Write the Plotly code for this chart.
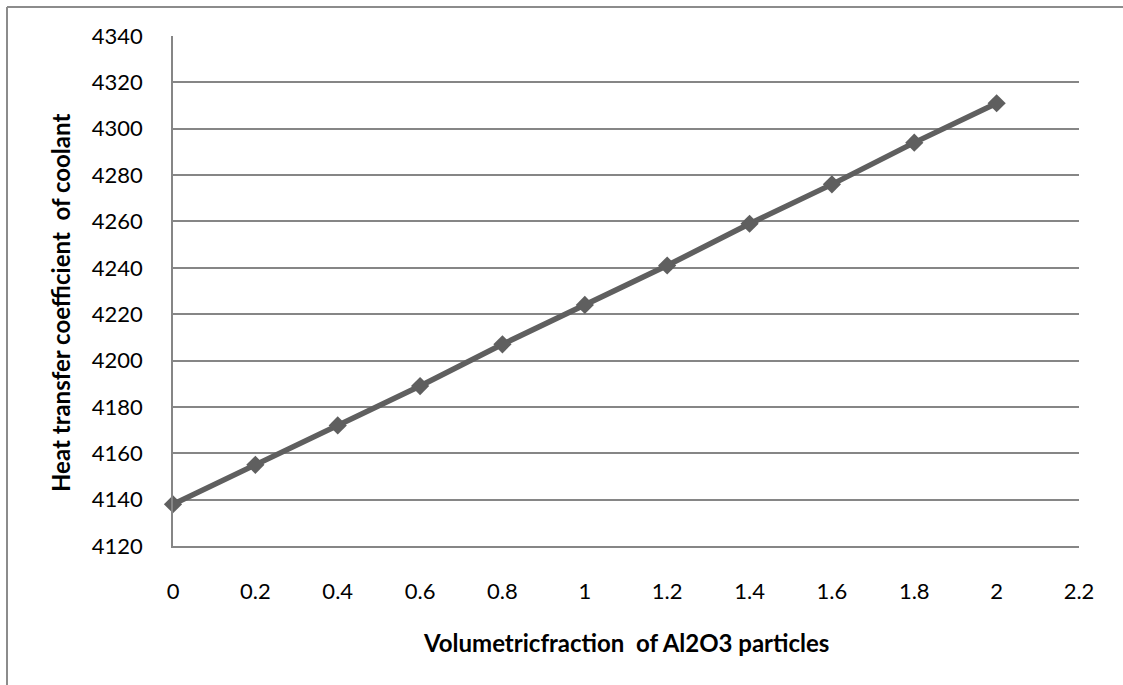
import plotly.graph_objects as go

fraction = [0, 0.2, 0.4, 0.6, 0.8, 1.0, 1.2, 1.4, 1.6, 1.8, 2.0]
htc = [4138, 4155, 4172, 4189, 4207, 4224, 4241, 4259, 4276, 4294, 4311]

x_ticks = [0, 0.2, 0.4, 0.6, 0.8, 1, 1.2, 1.4, 1.6, 1.8, 2, 2.2]
x_tick_text = ["0", "0.2", "0.4", "0.6", "0.8", "1", "1.2", "1.4", "1.6", "1.8", "2", "2.2"]
y_ticks = list(range(4120, 4341, 20))

x_title = "<b>Volumetricfraction  of Al2O3 particles</b>"
y_title = "<b>Heat transfer coefficient  of coolant</b>"

W, H = 1123, 685
L, R, T, B = 173, 44, 36, 139
pw, ph = W - L - R, H - T - B

grid_color = "#868686"
line_color = "#5f5f5f"
tick_font = dict(family="Lato, Carlito, Calibri, sans-serif", size=22, color="#000000")
title_font = dict(family="Lato, Carlito, Calibri, sans-serif", size=24, color="#000000")

fig = go.Figure()
fig.add_trace(go.Scatter(
    x=fraction, y=htc, mode="lines+markers",
    line=dict(color=line_color, width=5.5),
    marker=dict(symbol="diamond", size=14, color=line_color),
    showlegend=False, cliponaxis=False,
))

fig.update_layout(
    width=W, height=H,
    margin=dict(l=L, r=R, t=T, b=B),
    paper_bgcolor="white", plot_bgcolor="white",
    xaxis=dict(
        range=[0, 2.2], tickmode="array", tickvals=x_ticks, ticktext=x_tick_text,
        showgrid=False, zeroline=False, showline=True, linecolor=grid_color, linewidth=1.5,
        ticks="", tickfont=tick_font, ticklabelstandoff=25,
    ),
    yaxis=dict(
        range=[4120, 4340], tickmode="array", tickvals=y_ticks,
        showgrid=True, gridcolor=grid_color, gridwidth=1.5,
        zeroline=False, showline=True, linecolor=grid_color, linewidth=1.5,
        ticks="", tickfont=tick_font, ticklabelstandoff=24,
    ),
)

# axis titles placed as annotations for exact positioning
fig.add_annotation(text=x_title, xref="paper", yref="paper",
                   x=(626 - L) / pw, y=(H - B - 642) / ph,
                   xanchor="center", yanchor="middle", showarrow=False, font=title_font)
fig.add_annotation(text=y_title, xref="paper", yref="paper",
                   x=(60 - L) / pw, y=(H - B - 303) / ph, textangle=-90,
                   xanchor="center", yanchor="middle", showarrow=False, font=title_font)

# outer chart-area border (left and top edges visible)
lx = (7 - L) / pw
ty = (H - B - 7) / ph
fig.add_shape(type="line", xref="paper", yref="paper", x0=lx, x1=lx, y0=-0.5, y1=ty,
              line=dict(color="#8c8c8c", width=2))
fig.add_shape(type="line", xref="paper", yref="paper", x0=lx, x1=1.5, y0=ty, y1=ty,
              line=dict(color="#8c8c8c", width=2))

fig.write_html("out.html")
